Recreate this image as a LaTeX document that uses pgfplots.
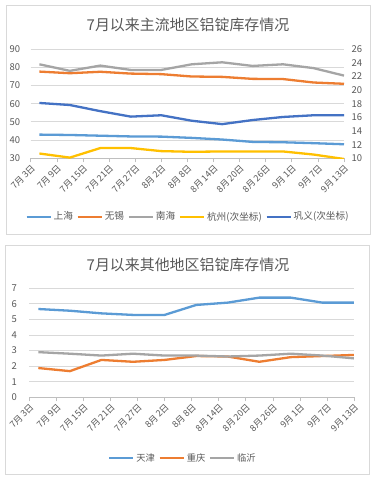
\documentclass[border=0pt]{standalone}
\usepackage{fontspec}
\setmainfont{Noto Sans CJK SC}
\usepackage{pgfplots}
\usepackage{pgfplotstable}
\pgfplotsset{compat=1.18}
\definecolor{cSH}{HTML}{5B9BD5}
\definecolor{cWX}{HTML}{ED7D31}
\definecolor{cNH}{HTML}{A5A5A5}
\definecolor{cHZ}{HTML}{FFC000}
\definecolor{cGY}{HTML}{4472C4}
\definecolor{txt}{HTML}{595959}
\definecolor{grid}{HTML}{D9D9D9}
\definecolor{axl}{HTML}{BFBFBF}

\pgfplotstableread{
day sh wx nh hz gy
2  43.0 77.6 81.6 10.70 18.1
9  42.8 76.7 78.0 10.10 17.8
16 42.4 77.5 80.9 11.50 16.9
23 42.0 76.5 78.5 11.50 16.1
30 41.9 76.2 78.5 11.05 16.3
37 41.2 74.9 81.6 10.95 15.5
44 40.3 74.7 82.7 11.00 15.0
51 39.0 73.6 80.7 11.00 15.6
58 38.8 73.5 81.6 11.00 16.05
65 38.3 71.6 79.5 10.55 16.3
72 37.7 70.9 75.4 9.90 16.3
}\topdata

\pgfplotstableread{
day tj cq ly
2  5.67 1.88 2.90
9  5.56 1.68 2.80
16 5.39 2.40 2.68
23 5.29 2.28 2.80
30 5.29 2.40 2.68
37 5.93 2.65 2.68
44 6.08 2.62 2.62
51 6.40 2.28 2.68
58 6.40 2.58 2.80
65 6.08 2.65 2.68
72 6.08 2.72 2.50
}\botdata

\pgfplotsset{
  base/.style={
    scale only axis,
    xmin=0, xmax=72,
    xtick={0,6,...,72},
    xticklabels={7月\,3日,7月\,9日,7月\,15日,7月\,21日,7月\,27日,8月\,2日,8月\,8日,8月\,14日,8月\,20日,8月\,26日,9月\,1日,9月\,7日,9月\,13日},
    xticklabel style={rotate=45, anchor=north east, inner sep=1bp, font=\fontsize{9}{10}\selectfont, text=txt},
    yticklabel style={font=\fontsize{9.5}{11}\selectfont, text=txt},
    /pgf/number format/assume math mode=true,
    tick align=outside,
    major tick length=4bp,
    xtick style={draw=axl, line width=0.6bp},
    ytick style={draw=none},
    axis x line*=bottom,
    axis y line*=left,
    x axis line style={draw=axl, line width=0.75bp, -},
    y axis line style={draw=none},
    ymajorgrids,
    major grid style={draw=grid, line width=0.75bp},
    legend style={draw=none, fill=none, text=txt, inner sep=0pt,
      nodes={inner xsep=2bp, inner ysep=1bp},
      /tikz/every even column/.append style={column sep=1.5bp}},
    legend image code/.code={\draw[#1] (0bp,0bp) -- (24bp,0bp);},
    every axis plot/.append style={line width=2.3bp, line join=round, no marks},
  },
}

\begin{document}
\begin{tikzpicture}
\useasboundingbox (0,0) rectangle (374bp,482bp);
\fill[white] (0,0) rectangle (374bp,482bp);
\draw[grid, line width=0.75bp] (6bp,248bp) rectangle (370bp,477bp);
\draw[grid, line width=0.75bp] (5bp,8bp) rectangle (369bp,237bp);

\node[font=\fontsize{15}{18}\selectfont, text=txt] at (188bp,457bp) {7月以来主流地区铝锭库存情况};
\node[font=\fontsize{15}{18}\selectfont, text=txt] at (188bp,217bp) {7月以来其他地区铝锭库存情况};

% top, primary axis
\begin{axis}[base,
  at={(30.7bp,323.7bp)}, anchor=south west,
  width=313.3bp, height=109.3bp,
  ymin=30, ymax=90, ytick={30,40,...,90},
  yticklabel style={xshift=-3bp},
]
\addplot[cSH] table[x=day, y=sh] {\topdata};
\addplot[cWX] table[x=day, y=wx] {\topdata};
\addplot[cNH] table[x=day, y=nh] {\topdata};
\end{axis}

% top, secondary axis
\begin{axis}[base,
  at={(30.7bp,323.7bp)}, anchor=south west,
  width=313.3bp, height=109.3bp,
  ymin=10, ymax=26, ytick={10,12,...,26},
  axis y line*=right,
  hide x axis,
  ymajorgrids=false,
  yticklabel style={anchor=west, xshift=0bp},
  legend columns=5,
  legend style={at={(0.502,-0.534)}, anchor=center, font=\fontsize{9.7}{12}\selectfont},
]
\addlegendimage{cSH, line width=2.3bp}
\addlegendentry{上海}
\addlegendimage{cWX, line width=2.3bp}
\addlegendentry{无锡}
\addlegendimage{cNH, line width=2.3bp}
\addlegendentry{南海}
\addplot[cHZ] table[x=day, y=hz] {\topdata};
\addlegendentry{杭州(次坐标)}
\addplot[cGY] table[x=day, y=gy] {\topdata};
\addlegendentry{巩义(次坐标)}
\end{axis}

% bottom axis
\begin{axis}[base,
  at={(29.3bp,84.7bp)}, anchor=south west,
  width=324.7bp, height=109bp,
  ymin=0, ymax=7, ytick={0,1,...,7},
  yticklabel style={xshift=-5bp},
  legend columns=3,
  legend style={at={(0.473,-0.557)}, anchor=center, font=\fontsize{9.3}{11}\selectfont},
]
\addplot[cSH] table[x=day, y=tj] {\botdata};
\addlegendentry{天津}
\addplot[cWX] table[x=day, y=cq] {\botdata};
\addlegendentry{重庆}
\addplot[cNH] table[x=day, y=ly] {\botdata};
\addlegendentry{临沂}
\end{axis}
\end{tikzpicture}
\end{document}
